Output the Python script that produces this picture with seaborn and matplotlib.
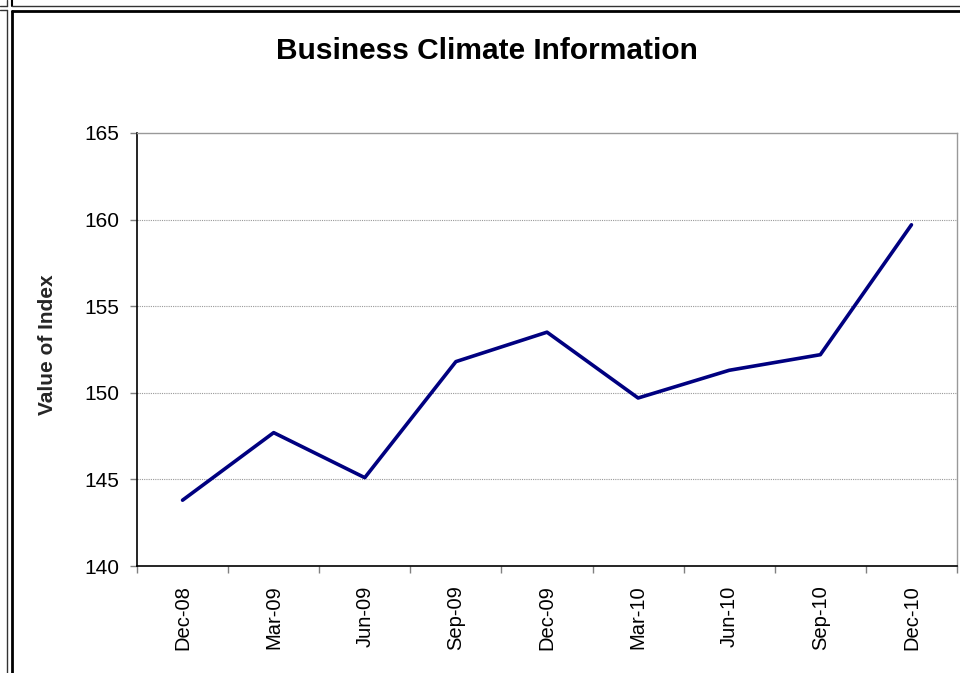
import matplotlib
matplotlib.use("Agg")
import matplotlib.pyplot as plt
from matplotlib.lines import Line2D
from matplotlib.ticker import FixedLocator
import seaborn as sns
import pandas as pd

categories = ["Dec-08", "Mar-09", "Jun-09", "Sep-09", "Dec-09", "Mar-10", "Jun-10", "Sep-10", "Dec-10"]
values = [143.8, 147.7, 145.1, 151.8, 153.5, 149.7, 151.3, 152.2, 159.7]
yticks = [140, 145, 150, 155, 160, 165]

sns.set_theme(style="white")
plt.rcParams["font.family"] = ["Liberation Sans", "DejaVu Sans"]

df = pd.DataFrame({"Quarter": categories, "Value": values})

W, H = 960, 673
fig = plt.figure(figsize=(9.6, 6.73), dpi=100)
fig.patch.set_facecolor("white")
ax = fig.add_axes([137 / W, (H - 566) / H, 820 / W, 433 / H])

sns.lineplot(data=df, x="Quarter", y="Value", ax=ax, color="#000080", linewidth=2.6, sort=False)

ax.set_xlim(-0.5, len(categories) - 0.5)
ax.set_ylim(140, 165)
ax.set_yticks(yticks)
ax.set_yticklabels([str(t) for t in yticks], fontsize=15, color="black")
ax.set_xticks(range(len(categories)))
ax.set_xticklabels(categories, rotation=90, fontsize=14.5, color="black")
ax.xaxis.set_minor_locator(FixedLocator([i - 0.5 for i in range(len(categories) + 1)]))
ax.tick_params(axis="x", which="major", length=0, pad=14)
ax.tick_params(axis="x", which="minor", length=5, width=1, color="#808080", direction="out", bottom=True)
ax.tick_params(axis="y", which="major", length=5, width=1, color="#808080", direction="out", left=True, pad=8)

ax.set_xlabel("")
ax.set_ylabel("Value of Index", fontsize=15, fontweight="bold")
ax.yaxis.set_label_coords(-80 / 820, (566 - 345) / 433)

for y in yticks[1:-1]:
    ax.axhline(y, color="#999999", linewidth=0.8, linestyle=(0, (1, 1)), zorder=0)

ax.spines["left"].set_color("black")
ax.spines["bottom"].set_color("black")
ax.spines["left"].set_linewidth(1.2)
ax.spines["bottom"].set_linewidth(1.2)
ax.spines["top"].set_color("#999999")
ax.spines["right"].set_color("#999999")
ax.spines["top"].set_linewidth(1.0)
ax.spines["right"].set_linewidth(1.0)

fig.text(487 / W, 1 - 51 / H, "Business Climate Information", ha="center", va="center",
         fontsize=21.5, fontweight="bold", color="black")

def px_line(x0, y0, x1, y1, lw, color="black"):
    fig.add_artist(Line2D([x0 / W, x1 / W], [1 - y0 / H, 1 - y1 / H], transform=fig.transFigure,
                          linewidth=lw, color=color))

# decorative frame
px_line(0, 6, 7, 6, 1.0, "#333333")
px_line(7, 0, 7, 6, 1.0, "#333333")
px_line(7, 10, 7, H, 1.0, "#333333")
px_line(12, 0, 12, 6, 1.5)
px_line(12, 6, W, 6, 1.0, "#333333")
px_line(12, 11, W, 11, 2.0)
px_line(12, 11, 12, H, 2.0)
px_line(0, 10, 7, 10, 1.0, "#333333")

fig.savefig("out.png", dpi=100, facecolor="white")
